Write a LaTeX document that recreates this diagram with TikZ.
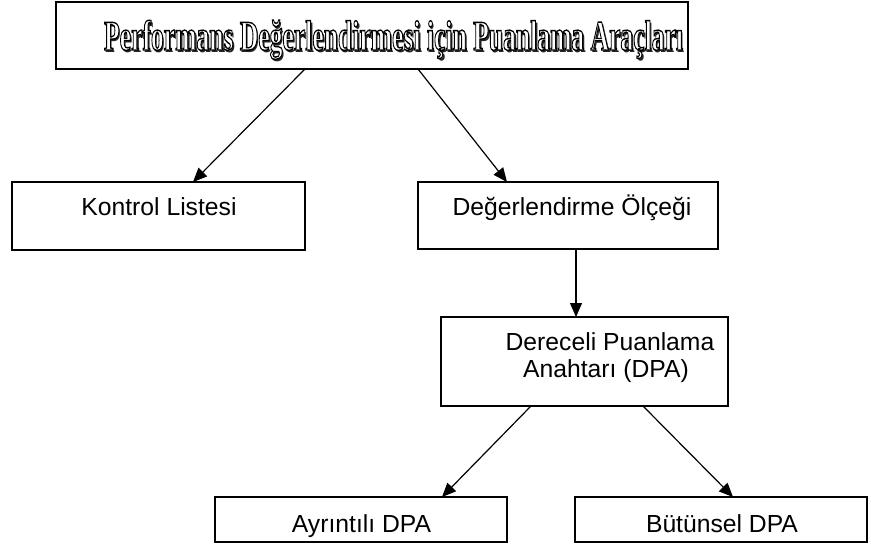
\documentclass[tikz,border=0pt]{standalone}
\usepackage{fontspec}
\setmainfont{Liberation Sans}
\newfontfamily\ttlfont{Liberation Serif}
\usetikzlibrary{arrows.meta,calc}
\newcommand\ttlraw{\ttlfont\bfseries\fontsize{42.3}{48}\selectfont Performans Değerlendirmesi için Puanlama Araçları}
\newcommand\ttlshadow{\resizebox{579pt}{\height}{\ttlraw}}
\newcommand\ttlhollow{\resizebox{579pt}{\height}{\special{pdf:literal direct q 2 Tr 1 g 0 G 1.4 w}\ttlraw\special{pdf:literal direct Q}}}
\begin{document}
\begin{tikzpicture}[x=1pt,y=-1pt,
  box/.style={draw,line width=1.2pt,rectangle,inner sep=0pt,outer sep=0pt},
  lbl/.style={font=\fontsize{24.7}{29}\selectfont, inner sep=0pt, anchor=base},
  arr/.style={line width=1.2pt,-{Triangle[length=14pt,width=12pt]}}]
\useasboundingbox (0,0) rectangle (871,546);
% boxes
\node[box,line width=1.4pt,minimum width=632pt,minimum height=67pt] (top) at (372,35.5) {};
\node[box,minimum width=293pt,minimum height=68pt] (k) at (158.5,216) {};
\node[box,minimum width=300pt,minimum height=67pt] (d) at (568,215.5) {};
\node[box,minimum width=287pt,minimum height=89pt] (dpa) at (584.5,361.5) {};
\node[box,minimum width=292pt,minimum height=45pt] (ay) at (361,519.5) {};
\node[box,minimum width=292pt,minimum height=45pt] (bu) at (721,519.5) {};
% title
\node[inner sep=0pt,anchor=base,text=black!85] (tsh) at (395.5,52) {\ttlshadow};
\node[inner sep=0pt,anchor=base] (ttl) at (393.5,50) {\ttlhollow};
% labels
\node[lbl] (tk) at (159,215) {Kontrol Listesi};
\node[lbl] (td) at (572,215) {Değerlendirme Ölçeği};
\node[lbl] (tp1) at (610,350) {Dereceli Puanlama};
\node[lbl] (tp2) at (606,377) {Anahtarı (DPA)};
\node[lbl] (ta) at (361.5,532) {Ayrıntılı DPA};
\node[lbl] (tb) at (722,532) {Bütünsel DPA};
% arrows
\draw[arr] ($(top.south west)+(249,0)$) -- ($(k.north west)+(181,0)$);
\draw[arr] ($(top.south west)+(362,0)$) -- ($(d.north west)+(89,0)$);
\draw[arr] ($(d.south west)+(158,0)$) -- ($(dpa.north west)+(135,0)$);
\draw[arr] ($(dpa.south west)+(90,0)$) -- ($(ay.north west)+(227,0)$);
\draw[arr] ($(dpa.south west)+(202,0)$) -- ($(bu.north west)+(158,0)$);
\end{tikzpicture}
\end{document}
